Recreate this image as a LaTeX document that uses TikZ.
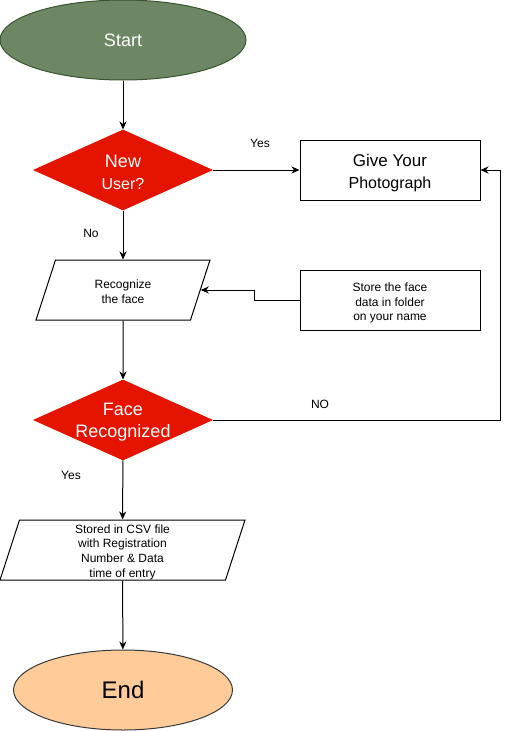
\documentclass[tikz,border=0pt]{standalone}
\usepackage{fontspec}
\setmainfont{Liberation Sans}
\usetikzlibrary{shapes.geometric,arrows.meta}
\definecolor{startgreen}{HTML}{6D8764}
\definecolor{startline}{HTML}{3A5431}
\definecolor{askred}{HTML}{E51400}
\definecolor{endpeach}{HTML}{FFCC99}
\definecolor{endline}{HTML}{36393D}
% empty body of a slanted box: 60pt high, #1 wide (the slants add 39pt)
\newcommand{\slantbody}[1]{\rule[-30pt]{0pt}{60pt}\hspace*{#1}}
\begin{document}
\begin{tikzpicture}[x=1pt,y=-1pt,line width=1pt,
  arr/.style={-{Stealth[length=8pt,width=7pt,inset=2.5pt]}},
  oval/.style={ellipse,draw,minimum width=#1,minimum height=80pt,inner sep=0pt},
  ask/.style={diamond,draw=askred,fill=askred,minimum width=178pt,minimum height=80pt,inner sep=0pt,aspect=2.2},
  box/.style={rectangle,draw,minimum width=180pt,minimum height=60pt,inner sep=0pt},
  slant/.style={trapezium,trapezium left angle=72,trapezium right angle=108,draw,inner sep=0pt},
  big/.style={align=center,text=white,font=\fontsize{18}{22}\selectfont,yshift=-2.5pt},
  small/.style={align=center,font=\fontsize{12}{14.6}\selectfont,yshift=-2pt},
  lbl/.style={inner sep=0pt,font=\fontsize{12}{14}\selectfont}]
%\draw[step=10,very thin,color=gray] (0,0) grid (509,731);
\useasboundingbox (0,0) rectangle (509,731);
\node[oval=246pt,fill=startgreen,draw=startline,text=white,font=\fontsize{18}{22}\selectfont] (start) at (123,40) {Start};
\node[ask,label={[big]center:New\\{\fontsize{16}{22}\selectfont User?}}] (newuser) at (123,170) {};
\node[box,label={[big,text=black,font=\fontsize{17}{22}\selectfont]center:Give Your\\{\fontsize{16}{22}\selectfont Photograph}}] (photo) at (390,170) {};
\node[slant,label={[small,yshift=0.5pt]center:Recognize\\the face}] (recog) at (123,290) {\slantbody{135pt}};
\node[box,label={[small,yshift=-1pt]center:Store the face\\data in folder\\on your name}] (store) at (390,300) {};
\node[ask,label={[big]center:Face\\Recognized}] (face) at (123,420) {};
\node[slant,label={[small]center:Stored in CSV file\\with Registration\\Number \& Data\\time of entry}] (stored) at (122.5,550) {\slantbody{206pt}};
\node[oval=219pt,fill=endpeach,draw=endline,font=\fontsize{24}{28}\selectfont] (finish) at (123,690) {End};
\node[lbl] (yes1) at (260,143) {Yes};
\node[lbl] (no1) at (91,233) {No};
\node[lbl] (no2) at (320,404) {NO};
\node[lbl] (yes2) at (71,475) {Yes};
\coordinate (back) at (500,420);
\draw[arr] (start) -- (newuser);
\draw[arr] (newuser.east) -- (photo.west);
\draw[arr] (newuser) -- (recog);
\draw[arr] (store.west) -- ++(-45,0) |- (recog.east);
\draw[arr] (recog) -- (face);
\draw[arr] (face.east) -- (back) |- (photo.east);
\draw[arr] (face) -- (stored);
\draw[arr] (stored) -- (finish);
\end{tikzpicture}
\end{document}
